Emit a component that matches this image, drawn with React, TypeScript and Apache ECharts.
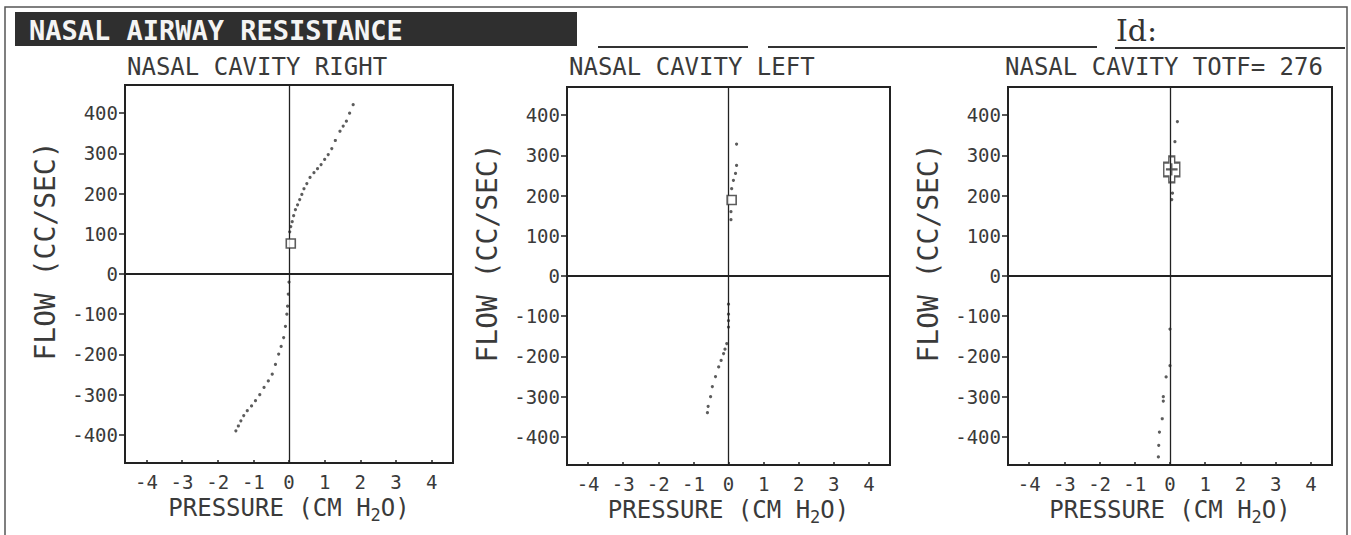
import React, { useEffect, useRef } from "react";
import * as echarts from "echarts";

const xTicks = [-4, -3, -2, -1, 0, 1, 2, 3, 4];
const yTicks = [-400, -300, -200, -100, 0, 100, 200, 300, 400];
const mainTitle = "NASAL AIRWAY RESISTANCE";
const panelTitles = ["NASAL CAVITY RIGHT", "NASAL CAVITY LEFT", "NASAL CAVITY TOTF= 276"];
const xName = "PRESSURE (CM H{s|2}O)";
const yName = "FLOW (CC/SEC)";

// Right nasal cavity (pressure, flow)
const rightUpper = [
  [0.02, 105], [0.05, 118], [0.09, 130], [0.13, 145], [0.18, 160], [0.24, 172],
  [0.3, 185], [0.36, 198], [0.42, 212], [0.5, 225], [0.59, 240], [0.7, 252],
  [0.8, 262], [0.9, 272], [1.0, 285], [1.1, 297], [1.2, 312], [1.3, 332],
  [1.43, 355], [1.52, 368], [1.61, 380], [1.7, 400], [1.8, 421],
];
const rightLower = [
  [0.0, -20], [-0.02, -50], [-0.04, -80], [-0.06, -100], [-0.1, -130], [-0.15, -158],
  [-0.22, -180], [-0.29, -199], [-0.38, -225], [-0.47, -249], [-0.58, -266],
  [-0.7, -282], [-0.82, -300], [-0.94, -315], [-1.05, -328], [-1.17, -340],
  [-1.27, -352], [-1.35, -365], [-1.42, -378], [-1.49, -390],
];
const rightMark = [[0.05, 76]];

// Left nasal cavity
const leftUpper = [
  [0.07, 140], [0.07, 160], [0.09, 217], [0.14, 238], [0.2, 255], [0.23, 275], [0.23, 328],
];
const leftLower = [
  [0.0, -70], [0.0, -95], [0.0, -111], [0.0, -127], [-0.05, -168], [-0.1, -182],
  [-0.14, -193], [-0.21, -210], [-0.28, -226], [-0.37, -250], [-0.46, -275],
  [-0.51, -300], [-0.58, -324], [-0.6, -340],
];
const leftMark = [[0.09, 189]];

// Total
const totalUpper = [[0.21, 384], [0.14, 334], [0.07, 206], [0.05, 190]];
const totalLower = [
  [0.0, -132], [0.0, -223], [-0.11, -251], [-0.19, -300], [-0.19, -311],
  [-0.22, -355], [-0.3, -388], [-0.32, -421], [-0.33, -450],
];
const totalMark = [[0.05, 265]];

const MONO = "'DejaVu Sans Mono', 'Liberation Mono', monospace";

export default function App() {
  const ref = useRef<HTMLDivElement>(null);
  useEffect(() => {
    if (!ref.current) return;
    const chart = echarts.init(ref.current, undefined, { renderer: "svg" });
    const grids = [
      { left: 125, top: 85, width: 328, height: 378 },
      { left: 567, top: 87, width: 323, height: 378 },
      { left: 1008, top: 87, width: 324, height: 378 },
    ];
    const titleLefts = [127, 569, 1005];
    const xAxes = grids.map((_, i) => ({
      type: "value",
      gridIndex: i,
      min: -4.6,
      max: 4.6,
      splitLine: { show: false },
      axisLine: { show: false, onZero: false },
      axisTick: { show: true, inside: true, length: 3, customValues: xTicks, lineStyle: { color: "#222", width: 1.5 } },
      axisLabel: {
        customValues: xTicks,
        margin: 9,
        fontFamily: MONO,
        fontSize: 19,
        color: "#3a3a3a",
      },
      name: xName,
      nameLocation: "middle",
      nameGap: 26,
      nameTextStyle: {
        fontFamily: MONO,
        fontSize: 24,
        color: "#3a3a3a",
        rich: { s: { fontFamily: MONO, fontSize: 17, color: "#3a3a3a", padding: [14, 0, 0, 0] } },
      },
    }));
    const yAxes = grids.map((_, i) => ({
      type: "value",
      gridIndex: i,
      min: -470,
      max: 470,
      splitLine: { show: false },
      axisLine: { show: false, onZero: false },
      axisTick: { show: true, inside: false, length: 6, customValues: yTicks, lineStyle: { color: "#222", width: 1.5 } },
      axisLabel: {
        customValues: yTicks,
        margin: 7,
        fontFamily: MONO,
        fontSize: 19,
        color: "#3a3a3a",
      },
      name: yName,
      nameLocation: "middle",
      nameRotate: 90,
      nameGap: 66,
      nameTextStyle: { fontFamily: MONO, fontSize: 28, color: "#3a3a3a", padding: [0, 0, 0, 46] },
    }));
    const dots = (data: number[][], i: number, zero: boolean) => ({
      type: "scatter",
      xAxisIndex: i,
      yAxisIndex: i,
      data,
      symbol: "circle",
      symbolSize: 3.2,
      itemStyle: { color: "#333" },
      silent: true,
      markLine: zero
        ? {
            silent: true,
            symbol: ["none", "none"],
            label: { show: false },
            data: [
              { xAxis: 0, lineStyle: { color: "#222", width: 1.3, type: "solid" } },
              { yAxis: 0, lineStyle: { color: "#222", width: 2, type: "solid" } },
            ],
          }
        : undefined,
    });
    const square = (data: number[][], i: number) => ({
      type: "scatter",
      xAxisIndex: i,
      yAxisIndex: i,
      data,
      symbol: "rect",
      symbolSize: 9,
      itemStyle: { color: "#fff", borderColor: "#333", borderWidth: 1.6 },
      z: 5,
    });
    chart.setOption({
      animation: false,
      backgroundColor: "#fff",
      title: panelTitles.map((t, i) => ({
        text: t,
        left: titleLefts[i],
        top: 55,
        padding: 0,
        textStyle: { fontFamily: MONO, fontSize: 24, fontWeight: "normal", color: "#3a3a3a" },
      })),
      grid: grids.map((g) => ({ ...g, show: true, borderColor: "#222", borderWidth: 2, backgroundColor: "#fff" })),
      xAxis: xAxes,
      yAxis: yAxes,
      series: [
        dots(rightUpper, 0, true),
        dots(rightLower, 0, false),
        square(rightMark, 0),
        dots(leftUpper, 1, true),
        dots(leftLower, 1, false),
        square(leftMark, 1),
        dots(totalUpper, 2, true),
        dots(totalLower, 2, false),
        {
          type: "scatter",
          xAxisIndex: 2,
          yAxisIndex: 2,
          data: totalMark,
          symbol: "path://M7,0 H15 V8 H22 V26 H15 V34 H7 V26 H0 V8 H7 Z M11,9 V25 M3,17 H19",
          symbolSize: [16, 26],
          itemStyle: { color: "rgba(255,255,255,0)", borderColor: "#333", borderWidth: 1.8 },
          z: 5,
        },
      ],
      graphic: [
        {
          type: "polyline",
          shape: { points: [[5, 535], [5, 7], [1347, 7], [1347, 535]] },
          style: { stroke: "#555", lineWidth: 1.5, fill: "none" },
          silent: true,
        },
        { type: "rect", shape: { x: 15, y: 12, width: 562, height: 34 }, style: { fill: "#2f2f2f" } },
        {
          type: "text",
          x: 29,
          y: 30,
          style: {
            text: mainTitle,
            fill: "#f4f4f4",
            font: `bold 27px ${MONO}`,
            verticalAlign: "middle",
          },
        },
        { type: "line", shape: { x1: 598, y1: 47, x2: 748, y2: 47 }, style: { stroke: "#333", lineWidth: 2 } },
        { type: "line", shape: { x1: 768, y1: 47, x2: 1097, y2: 47 }, style: { stroke: "#333", lineWidth: 2 } },
        { type: "line", shape: { x1: 1115, y1: 48, x2: 1345, y2: 48 }, style: { stroke: "#333", lineWidth: 2 } },
        {
          type: "text",
          x: 1116,
          y: 30,
          style: {
            text: "Id:",
            fill: "#333",
            font: "30px 'DejaVu Serif', 'Liberation Serif', serif",
            verticalAlign: "middle",
          },
        },
      ],
    });
    return () => chart.dispose();
  }, []);
  return (
    <div
      ref={ref}
      style={{ position: "fixed", left: 0, top: 0, width: 1351, height: 535, background: "#fff" }}
    />
  );
}
